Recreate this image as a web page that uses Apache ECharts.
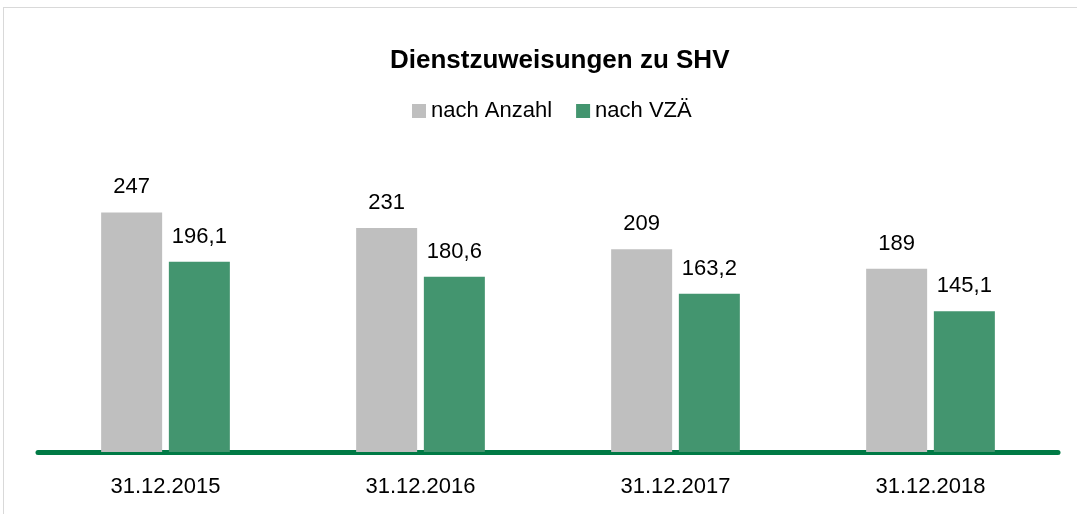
<!DOCTYPE html>
<html>
<head>
<meta charset="utf-8">
<script src="https://cdn.jsdelivr.net/npm/echarts@6/dist/echarts.min.js"></script>
<style>
    html, body { margin: 0; padding: 0; background: #fff; }
    #frame {
        position: absolute; left: 3px; top: 7px;
        width: 1090px; height: 520px;
        border: 1px solid #d9d9d9;
    }
    #chart { position: absolute; left: 0; top: 0; width: 1077px; height: 514px; }
</style>
</head>
<body>
<div id="frame"></div>
<div id="chart"></div>
<script>
// Daten
const categories = ['31.12.2015', '31.12.2016', '31.12.2017', '31.12.2018'];
const anzahl = [247, 231, 209, 189];
const vzae = [196.1, 180.6, 163.2, 145.1];
const seriesNames = ['nach Anzahl', 'nach VZÄ'];

const font = '"Liberation Sans Narrow", "Arial Narrow", "Liberation Sans", Arial, sans-serif';

const myChart = echarts.init(document.getElementById('chart'));

const labelStyle = (fmt) => ({
    show: true,
    position: 'top',
    distance: 14,
    color: '#000',
    fontSize: 22,
    fontFamily: font,
    formatter: fmt
});

let option = {
    animation: false,
    title: {
        text: 'Dienstzuweisungen zu SHV',
        left: 385,
        top: 43,
        textStyle: { fontSize: 26, fontWeight: 'bold', color: '#000', fontFamily: font }
    },
    legend: {
        data: seriesNames,
        top: 95,
        left: 407,
        itemWidth: 14,
        itemHeight: 14,
        itemGap: 24,
        icon: 'rect',
        textStyle: { fontSize: 22, color: '#000', fontFamily: font }
    },
    grid: { left: 38, right: 19, top: 161, bottom: 62 },
    xAxis: {
        type: 'category',
        data: categories,
        axisLine: { lineStyle: { color: '#007a45', width: 5 } },
        axisTick: { show: false },
        axisLabel: { fontSize: 22, color: '#000', fontFamily: font, margin: 24 }
    },
    yAxis: {
        type: 'value',
        min: 0,
        max: 300,
        show: false,
        splitLine: { show: false }
    },
    series: [
        {
            name: seriesNames[0],
            type: 'bar',
            data: anzahl,
            barWidth: 61,
            barGap: '11%',
            itemStyle: { color: '#bfbfbf' },
            label: labelStyle(p => String(p.value))
        },
        {
            name: seriesNames[1],
            type: 'bar',
            data: vzae,
            barWidth: 61,
            itemStyle: { color: '#43956f' },
            label: labelStyle(p => p.value.toFixed(1).replace('.', ','))
        }
    ]
};
myChart.setOption(option);
</script>
</body>
</html>
